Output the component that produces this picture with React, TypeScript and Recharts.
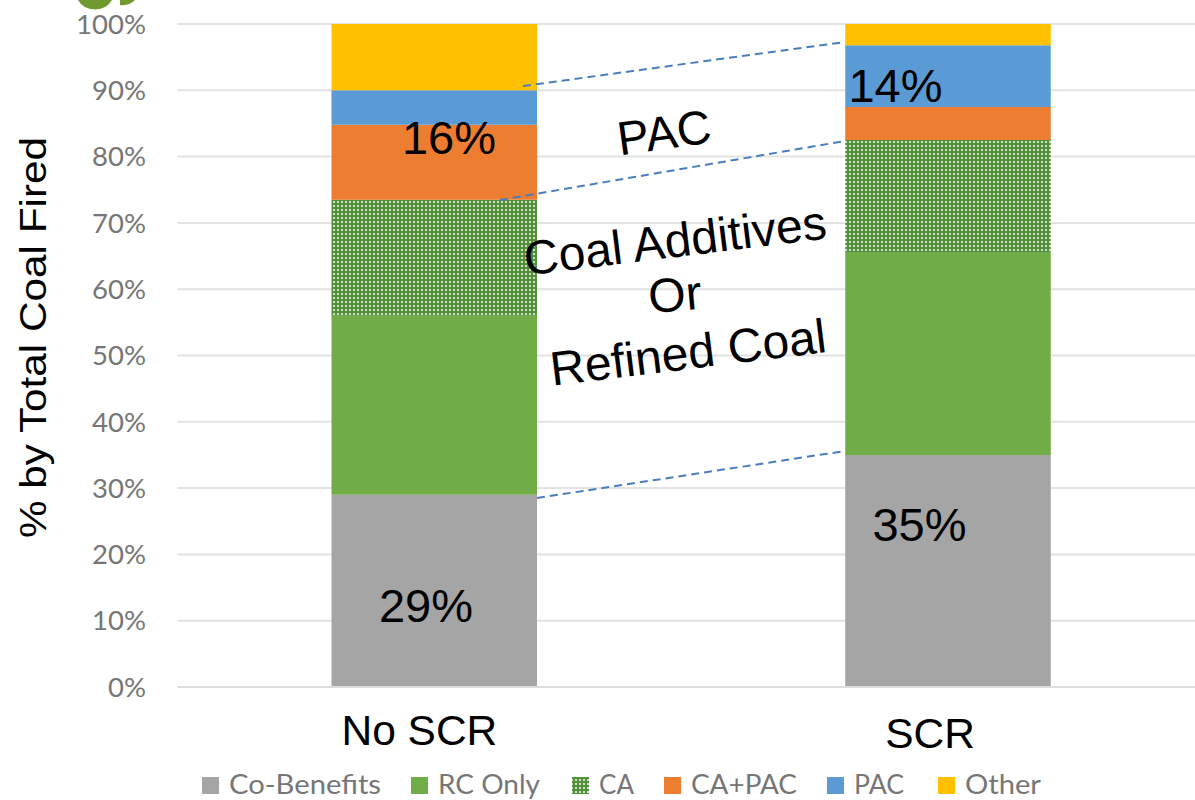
import { BarChart, Bar, XAxis, YAxis, CartesianGrid, Legend } from 'recharts'

const categories = ['No SCR', 'SCR']
const coBenefits = [29, 35]
const rcOnly = [27, 30.5]
const ca = [17.5, 17]
const caPac = [11.3, 5]
const pac = [5.2, 9.3]
const other = [10, 3.2]
const yTicks = [0, 10, 20, 30, 40, 50, 60, 70, 80, 90, 100]

const data = categories.map((name, i) => ({
  name,
  'Co-Benefits': coBenefits[i],
  'RC Only': rcOnly[i],
  CA: ca[i],
  'CA+PAC': caPac[i],
  PAC: pac[i],
  Other: other[i],
}))

const LABEL_FONT = '"Liberation Sans", Arial, sans-serif'
const AXIS_FONT = 'Lato, sans-serif'

// the category labels sit a little off the bar centres in the original
const tickShift: Record<string, [number, number]> = {
  'No SCR': [-15, 0],
  SCR: [-18, 3],
}

function CategoryTick({ x, y, payload }: any) {
  const [dx, dy] = tickShift[payload.value] ?? [0, 0]
  return (
    <text
      x={x + dx}
      y={y + dy + 50}
      textAnchor="middle"
      fontFamily={LABEL_FONT}
      fontSize={42.5}
      fill="#000"
    >
      {payload.value}
    </text>
  )
}

// x of each swatch and the text width, Lato is not as narrow as the original font
const legendSlots: Record<string, [number, number]> = {
  'Co-Benefits': [0, 152],
  'RC Only': [209, 102],
  CA: [370, 35],
  'CA+PAC': [462, 106],
  PAC: [625, 50],
  Other: [736, 76],
}

function LegendRow({ payload }: any) {
  return (
    <svg width={950} height={30} style={{ display: 'block' }}>
      {(payload ?? []).map((entry: any) => {
        const [left, textWidth] = legendSlots[entry.value]
        return (
          <g key={entry.value}>
            <rect x={left} y={7} width={17} height={17} fill={entry.color} />
            <text
              x={left + 27}
              y={24}
              fontFamily={AXIS_FONT}
              fontSize={26}
              fill="#767676"
              textLength={textWidth}
              lengthAdjust="spacingAndGlyphs"
            >
              {entry.value}
            </text>
          </g>
        )
      })}
    </svg>
  )
}

function Pattern() {
  return (
    <defs>
      <pattern id="dotted" width={4} height={4} patternUnits="userSpaceOnUse">
        <rect width={4} height={4} fill="#52903a" />
        <rect x={1} y={1} width={2} height={2} fill="#d0e0c6" />
      </pattern>
    </defs>
  )
}

function Notes() {
  const text = { fontFamily: LABEL_FONT, fill: '#000', textAnchor: 'middle' as const }
  const dash = { stroke: '#4a7ebb', strokeWidth: 2, strokeDasharray: '8 5' }
  return (
    <svg width={1195} height={800} style={{ position: 'absolute', left: 0, top: 0, pointerEvents: 'none' }}>
      <path d="M78 0 A19 17 0 0 0 112 0 Z" fill="#6f9a2f" />
      <path d="M120 0 L135 0 A18 18 0 0 1 120 5 Z" fill="#6f9a2f" />
      <line x1={523} y1={86} x2={845} y2={42} {...dash} />
      <line x1={500} y1={200} x2={845} y2={141} {...dash} />
      <line x1={537} y1={498} x2={845} y2={451} {...dash} />
      <text x={426} y={622} fontSize={47} {...text}>29%</text>
      <text x={449} y={154} fontSize={47} {...text}>16%</text>
      <text x={919.5} y={541} fontSize={47} {...text}>35%</text>
      <text x={895.5} y={102} fontSize={47} {...text}>14%</text>
      <text x={664} y={149} fontSize={47.5} transform="rotate(-8 664 132)" {...text}>PAC</text>
      <text x={675} y={257} fontSize={48} transform="rotate(-7 675 240)" {...text}>Coal Additives</text>
      <text x={675} y={311} fontSize={48} transform="rotate(-5 675 295)" {...text}>Or</text>
      <text x={688} y={369} fontSize={48} transform="rotate(-7 688 352)" {...text}>Refined Coal</text>
      <text
        x={0}
        y={0}
        fontFamily={LABEL_FONT}
        fontSize={37}
        fill="#000"
        textAnchor="middle"
        textLength={401}
        lengthAdjust="spacingAndGlyphs"
        transform="translate(46 337.5) rotate(-90)"
      >
        % by Total Coal Fired
      </text>
    </svg>
  )
}

export default function App() {
  return (
    <div style={{ position: 'absolute', left: 0, top: 0, width: 1195, height: 800, overflow: 'hidden', background: '#fff' }}>
      <BarChart
        width={1212}
        height={800}
        data={data}
        barSize={205.5}
        margin={{ top: 24, right: 7, left: 0, bottom: 33 }}
      >
        <Pattern />
        <CartesianGrid horizontal vertical={false} stroke="#e2e2e2" strokeWidth={2} />
        <XAxis
          dataKey="name"
          height={50}
          tick={<CategoryTick />}
          tickLine={false}
          axisLine={{ stroke: '#dcdcdc', strokeWidth: 2 }}
          interval={0}
        />
        <YAxis
          width={177.5}
          domain={[0, 100]}
          ticks={yTicks}
          interval={0}
          tickFormatter={(v) => `${v}%`}
          tick={{ fill: '#767676', fontSize: 27.5, fontFamily: AXIS_FONT }}
          tickLine={false}
          axisLine={false}
          tickSize={0}
          tickMargin={31.5}
        />
        <Legend
          content={<LegendRow />}
          itemSorter={null}
          wrapperStyle={{ left: 202, top: 770, width: 950, bottom: 'auto' }}
        />
        <Bar dataKey="Co-Benefits" stackId="a" fill="#a5a5a5" isAnimationActive={false} />
        <Bar dataKey="RC Only" stackId="a" fill="#70ad47" isAnimationActive={false} />
        <Bar dataKey="CA" stackId="a" fill="url(#dotted)" isAnimationActive={false} />
        <Bar dataKey="CA+PAC" stackId="a" fill="#ed7d31" isAnimationActive={false} />
        <Bar dataKey="PAC" stackId="a" fill="#5b9bd5" isAnimationActive={false} />
        <Bar dataKey="Other" stackId="a" fill="#ffc000" isAnimationActive={false} />
      </BarChart>
      <Notes />
    </div>
  )
}
